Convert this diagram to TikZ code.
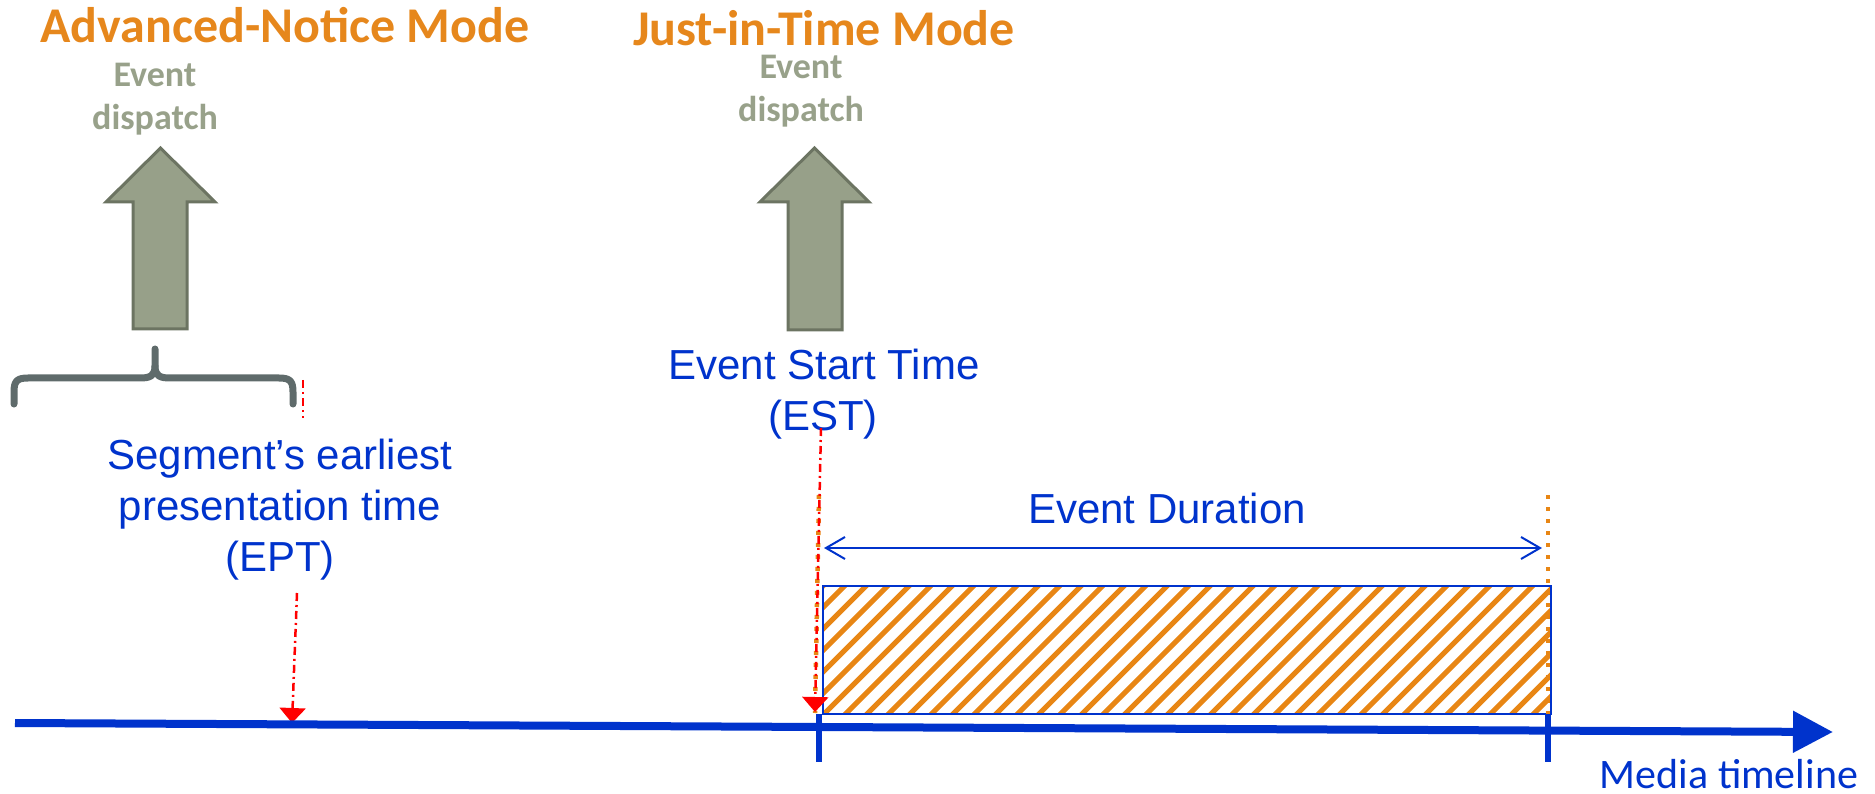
\documentclass[tikz,border=0pt]{standalone}
\usepackage{fontspec}
\setmainfont{Liberation Sans}
\newfontfamily\calibri{Carlito}
\usetikzlibrary{arrows.meta}
\definecolor{orangeT}{RGB}{230,135,28}
\definecolor{grayT}{RGB}{152,161,138}
\definecolor{arrowFill}{RGB}{151,160,137}
\definecolor{arrowLine}{RGB}{108,116,98}
\definecolor{braceC}{RGB}{95,107,107}
\definecolor{blueT}{RGB}{0,51,204}
\definecolor{hatchC}{RGB}{232,134,20}
\definecolor{redC}{RGB}{255,0,0}
\begin{document}
\begin{tikzpicture}[x=1pt,y=-1pt,
  titletext/.style={font=\calibri\bfseries\fontsize{50}{60}\selectfont, text=orangeT, inner sep=0pt, anchor=base},
  disptext/.style={font=\calibri\bfseries\fontsize{36}{43}\selectfont, text=grayT, inner sep=0pt, anchor=base},
  bluetext/.style={font=\fontsize{42}{51}\selectfont, text=blueT, inner sep=0pt, anchor=base},
  mediatext/.style={font=\calibri\fontsize{42}{50}\selectfont, text=blueT, inner sep=0pt, anchor=base},
  blockarrow/.style={fill=arrowFill, draw=arrowLine, line width=3pt, line join=miter},
  bracestyle/.style={draw=braceC, line width=7pt, line cap=round, line join=round},
  reddash/.style={draw=redC, line width=2.5pt, dash pattern=on 8pt off 4pt on 2pt off 4pt},
  redhead/.style={-{Triangle[length=15pt,width=26pt]}, redC},
  orangedot/.style={draw=hatchC, line width=4.5pt, dash pattern=on 4pt off 8pt},
  hatchline/.style={draw=hatchC, line width=5pt},
  durarrow/.style={draw=blueT, line width=2pt, {Straight Barb[length=19pt,width=22pt]}-{Straight Barb[length=19pt,width=22pt]}},
  tickline/.style={draw=blueT, line width=6pt},
  timeline/.style={draw=blueT, line width=8pt, -{Triangle[length=40pt,width=40pt]}}
]
\useasboundingbox (0,0) rectangle (1875,794);

% titles
\node[titletext] (t1) at (285,43) {Advanced-Notice Mode};
\node[titletext] (t2) at (824,46) {Just-in-Time Mode};

% event dispatch labels
\node[disptext] (d1a) at (155,87) {Event};
\node[disptext] (d1b) at (155,130) {dispatch};
\node[disptext] (d2a) at (801,79) {Event};
\node[disptext] (d2b) at (801,122) {dispatch};

% block arrows
\draw[blockarrow] (133,329) -- (133,202) -- (106,202) -- (160.5,148) -- (215,202) -- (187,202) -- (187,329) -- cycle;
\draw[blockarrow] (788,330) -- (788,202) -- (760,202) -- (814.5,148) -- (869,202) -- (842,202) -- (842,330) -- cycle;

% brace
\draw[bracestyle] (14,404) -- (14,392) .. controls (14,381) and (17,378) .. (28,378) -- (140,378) .. controls (150,378) and (155,376) .. (155,366) -- (155,349);
\draw[bracestyle] (155,366) .. controls (155,376) and (160,378) .. (170,378) -- (279,378) .. controls (290,378) and (293,381) .. (293,392) -- (293,404);

% labels
\node[bluetext] (est1) at (824,380) {Event Start Time};
\node[bluetext] (est2) at (823,430) {(EST)};
\node[bluetext] (ept1) at (280,469) {Segment’s earliest};
\node[bluetext] (ept2) at (280,520) {presentation time};
\node[bluetext] (ept3) at (280,571) {(EPT)};
\node[bluetext] (dur) at (1167,523) {Event Duration};
\node[mediatext] (media) at (1729,788) {Media timeline};

% hatched event box
\coordinate (rA) at (823,586);
\coordinate (rB) at (1551,714);
\begin{scope}
  \clip (rA) rectangle (rB);
  \foreach \i in {0,...,40} {
    \draw[hatchline] ({689+\i*21.5},720) -- ++(140,-140);
  }
\end{scope}
\draw[blueT, line width=2.5pt] (rA) rectangle (rB);

% orange dotted boundaries
\coordinate (oL1) at (819,495); \coordinate (oL2) at (815,713);
\coordinate (oR1) at (1548,495); \coordinate (oR2) at (1548,714);
\draw[orangedot] (oL1) -- (oL2);
\draw[orangedot] (oR1) -- (oR2);

% red markers
\coordinate (eptA) at (297,593); \coordinate (eptB) at (292,723);
\draw[reddash, redhead] (eptA) -- (eptB);
\coordinate (bA) at (303,380); \coordinate (bB) at (303,418);
\draw[reddash] (bA) -- (bB);
\coordinate (estA) at (821,428); \coordinate (estB) at (815,712);
\draw[reddash, redhead] (estA) -- (estB);

% duration arrow
\coordinate (du1) at (824,548); \coordinate (du2) at (1542,548);
\draw[durarrow] (du1) -- (du2);

% timeline and ticks
\coordinate (tk1a) at (819,714); \coordinate (tk1b) at (819,762);
\coordinate (tk2a) at (1548,714); \coordinate (tk2b) at (1548,762);
\draw[tickline] (tk1a) -- (tk1b);
\draw[tickline] (tk2a) -- (tk2b);
\coordinate (tl0) at (15,723); \coordinate (tl1) at (1833,732);
\draw[timeline] (tl0) -- (tl1);
\end{tikzpicture}
\end{document}
